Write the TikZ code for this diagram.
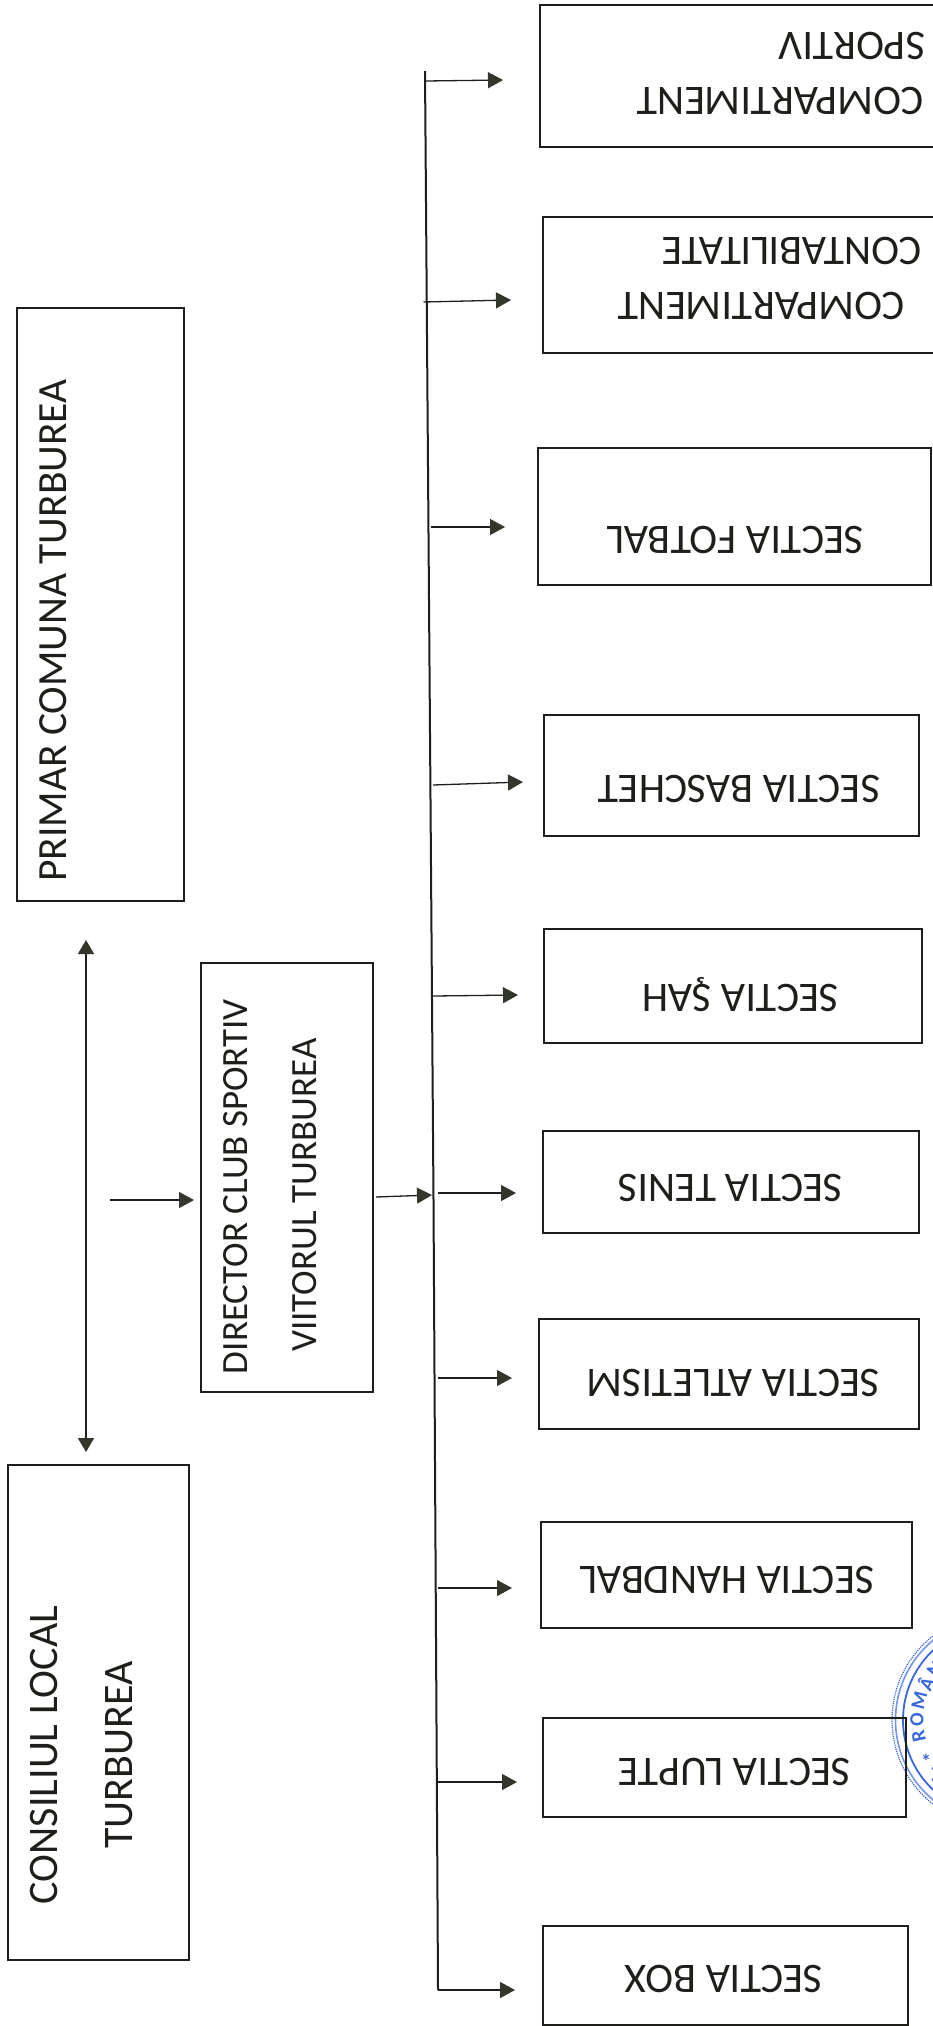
\documentclass[tikz,border=0pt]{standalone}
\usepackage{fontspec}
\setmainfont{Carlito}
\usetikzlibrary{arrows.meta}
\definecolor{inkk}{HTML}{1E1E1A}
\definecolor{headc}{HTML}{33362A}
\definecolor{stampc}{HTML}{3A68DC}
\tikzset{
  boxn/.style={draw=inkk,line width=1.5pt,inner sep=0pt,outer sep=0pt},
  lab/.style={inner sep=0pt,outer sep=0pt,text=inkk,text depth=0pt,font=\fontsize{42}{42}\selectfont},
  labs/.style={lab,font=\fontsize{37}{37}\selectfont},
  labp/.style={lab,font=\fontsize{41.5}{41.5}\selectfont},
  arr/.style={draw=inkk,line width=1.3pt,-{Triangle[length=15pt,width=16pt,color=headc]}},
  darr/.style={draw=inkk,line width=1.8pt,{Triangle[length=14pt,width=16pt,color=headc]}-{Triangle[length=14pt,width=16pt,color=headc]}},
  busl/.style={draw=inkk,line width=2pt},
  stampl/.style={text=stampc,inner sep=0pt,font=\fontsize{20}{20}\selectfont\bfseries}
}
\newcommand{\bx}[5]{\node[boxn,minimum width={(#4-#2)*1pt},minimum height={(#5-#3)*1pt}] (#1) at ({(#2+#4)/2},{(#3+#5)/2}) {};}
\newcommand{\tx}[5]{\node[lab,rotate=#4] (#1) at (#2,#3) {#5};}
\newcommand{\txs}[5]{\node[labs,rotate=#4] (#1) at (#2,#3) {#5};}
\begin{document}
\begin{tikzpicture}[x=1pt,y=-1pt]
\clip (0,0) rectangle (933,2026);
\fill[white] (0,0) rectangle (933,2026);
% stamp
\draw[stampc,line width=1.2pt,densely dotted] (999,1720) circle (107);
\draw[stampc!70,line width=1.6pt] (999,1720) circle (103.5);
\draw[stampc,line width=1.8pt] (999,1720) circle (96);
\foreach \c/\t in {R/11.7,O/-0.5,M/-13.5,Â/-26.5,N/-38.5}{
  \node[stampl,rotate=90+\t] at ({999-82*cos(\t)},{1720+82*sin(\t)}) {\c};
}
\node[stampl] (star) at (926,1761) {*};
\draw[stampc,line width=2pt] (932,1768) arc (-60:60:9 and 7);
% boxes
\bx{bSport}{540}{5}{950}{147}
\bx{bCont}{543}{217}{950}{353}
\bx{bFot}{538}{448}{931}{585}
\bx{bBas}{544}{715}{919}{836}
\bx{bSah}{544}{929}{922}{1043}
\bx{bTen}{543}{1131}{919}{1233}
\bx{bAtl}{539}{1319}{919}{1429}
\bx{bHan}{541}{1522}{912}{1628}
\bx{bLup}{543}{1718}{906}{1817}
\bx{bBox}{543}{1926}{908}{2025}
\bx{bDir}{201}{963}{373}{1392}
\bx{bPri}{17}{308}{184}{901}
\bx{bCon}{8}{1465}{189}{1960}
% labels
\tx{t1}{852}{46}{180}{SPORTIV}
\tx{t2}{780}{101}{180}{COMPARTIMENT}
\tx{t3}{791.5}{251}{180}{CONTABILITATE}
\tx{t4}{761}{306}{180}{COMPARTIMENT}
\tx{t5}{735}{540}{180}{SECTIA FOTBAL}
\tx{t6}{739}{789}{180}{SECTIA BASCHET}
\tx{t7}{740.5}{998}{180}{SECTIA ŞAH}
\tx{t8}{730.5}{1188}{180}{SECTIA TENIS}
\tx{t9}{733}{1383}{180}{SECTIA ATLETISM}
\tx{t10}{727}{1580}{180}{SECTIA HANDBAL}
\tx{t11}{734}{1772}{180}{SECTIA LUPTE}
\tx{t12}{724}{1979}{180}{SECTIA BOX}
\txs{t13}{235}{1186.5}{90}{DIRECTOR CLUB SPORTIV}
\txs{t14}{304}{1195}{90}{VIITORUL TURBUREA}
\node[labp,rotate=90] (t15) at (53,630.5) {PRIMAR COMUNA TURBUREA};
\tx{t16}{44}{1755}{90}{CONSILIUL LOCAL}
\tx{t17}{119}{1755}{90}{TURBUREA}
% coordinates
\coordinate (busA) at (425,71);
\coordinate (busB) at (429,600);
\coordinate (busC) at (433.5,1200);
\coordinate (busD) at (438,1988);
\foreach \n/\xa/\ya/\xb/\yb in {
  sport/426/81/503/80, cont/423.5/302/511/300, fot/431/527/505/527,
  bas/433/785/523/782, sah/433/996/518/995, ten/438/1193/516/1193,
  atl/438/1378/512/1378, han/438/1588/512/1588, lup/438/1782/517/1782,
  box/438/1990/515/1990, dirin/110/1200/194/1200, dirout/376/1197/432/1195}{
  \coordinate (s\n) at (\xa,\ya);
  \coordinate (e\n) at (\xb,\yb);
}
\coordinate (dtop) at (86,940);
\coordinate (dbot) at (86,1452);
% connectors
\draw[busl] (busA) -- (busB) -- (busC) -- (busD) -- (sbox);
\foreach \n in {sport,cont,fot,bas,sah,ten,atl,han,lup,box,dirin,dirout}{
  \draw[arr] (s\n) -- (e\n);
}
\draw[darr] (dtop) -- (dbot);
\end{tikzpicture}
\end{document}
